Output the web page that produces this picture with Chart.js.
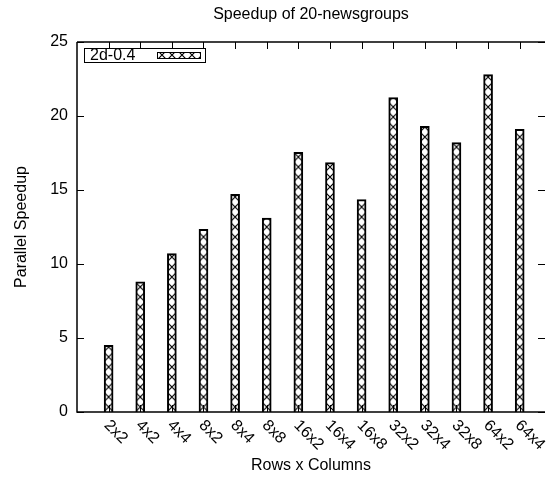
<!DOCTYPE html>
<html>
<head>
<meta charset="utf-8">
<script src="https://cdn.jsdelivr.net/npm/chart.js@4.4.0/dist/chart.umd.min.js"></script>
<style>
  html, body { margin: 0; padding: 0; background: #fff; }
  #wrap { width: 547px; height: 481px; }
</style>
</head>
<body>
<div id="wrap"><canvas id="speedup"></canvas></div>
<script>
// Speedup of 20-newsgroups - single hatched bar series

const configs = ['2x2', '4x2', '4x4', '8x2', '8x4', '8x8', '16x2', '16x4', '16x8', '32x2', '32x4', '32x8', '64x2', '64x4'];
const speedup = [4.5, 8.8, 10.7, 12.35, 14.7, 13.1, 17.55, 16.85, 14.35, 21.25, 19.3, 18.2, 22.8, 19.1];
const yTicks = [0, 5, 10, 15, 20, 25];
const seriesLabel = '2d-0.4';
const chartTitle = 'Speedup of 20-newsgroups';
const xTitle = 'Rows x Columns';
const yTitle = 'Parallel Speedup';

const FONT = "'Liberation Sans', Arial, sans-serif";

// crosshatch tile like gnuplot's pattern fill
function hatch(ctx, offsetX, offsetY) {
    const tile = document.createElement('canvas');
    tile.width = 10;
    tile.height = 10;
    const t = tile.getContext('2d');
    t.fillStyle = '#fff';
    t.fillRect(0, 0, 10, 10);
    t.strokeStyle = '#000';
    t.lineWidth = 1.2;
    t.beginPath();
    t.moveTo(-1, -1); t.lineTo(11, 11);
    t.moveTo(11, -1); t.lineTo(-1, 11);
    t.stroke();
    const p = ctx.createPattern(tile, 'repeat');
    p.setTransform(new DOMMatrix().translate(offsetX, offsetY || 0));
    return p;
}

// frame, ticks, titles, rotated labels and the key, gnuplot style
const gnuplotDecor = {
    id: 'gnuplotDecor',
    afterDraw(chart) {
        const ctx = chart.ctx;
        const area = chart.chartArea;
        const xs = chart.scales.x;
        const ys = chart.scales.y;
        ctx.save();
        ctx.strokeStyle = '#000';
        ctx.lineWidth = 1.5;

        // border: left, top, bottom
        ctx.beginPath();
        ctx.moveTo(area.left, area.top);
        ctx.lineTo(area.right, area.top);
        ctx.moveTo(area.left, area.top);
        ctx.lineTo(area.left, area.bottom);
        ctx.lineTo(area.right, area.bottom);
        ctx.stroke();

        // inward tick marks
        ctx.lineWidth = 1;
        ctx.beginPath();
        yTicks.forEach(v => {
            const y = Math.round(ys.getPixelForValue(v)) + 0.5;
            ctx.moveTo(area.left, y); ctx.lineTo(area.left + 7, y);
            ctx.moveTo(area.right, y); ctx.lineTo(area.right - 7, y);
        });
        configs.forEach((c, i) => {
            const x = Math.round(xs.getPixelForValue(i)) + 0.5;
            ctx.moveTo(x, area.top); ctx.lineTo(x, area.top + 7);
            ctx.moveTo(x, area.bottom); ctx.lineTo(x, area.bottom - 7);
        });
        ctx.stroke();

        ctx.fillStyle = '#000';
        ctx.font = '16px ' + FONT;

        // title and x axis title
        ctx.textAlign = 'center';
        ctx.textBaseline = 'middle';
        const mid = (area.left + area.right) / 2;
        ctx.fillText(chartTitle, mid, 15);
        ctx.fillText(xTitle, mid, 466);

        // rotated category labels
        ctx.textAlign = 'left';
        configs.forEach((c, i) => {
            const x = xs.getPixelForValue(i);
            ctx.save();
            ctx.translate(x - 2, 423);
            ctx.rotate(Math.PI / 4);
            ctx.fillText(c, 0, 0);
            ctx.restore();
        });

        // key box
        ctx.lineWidth = 1;
        ctx.strokeRect(84.5, 48.5, 121, 14);
        ctx.textAlign = 'left';
        ctx.fillText(seriesLabel, 90, 56);
        ctx.fillStyle = hatch(ctx, 157, 50);
        ctx.fillRect(157, 52, 44, 6);
        ctx.strokeRect(157.5, 52.5, 43, 6);
        ctx.restore();
    }
};

const ctx = document.getElementById('speedup').getContext('2d');

new Chart(ctx, {
    type: 'bar',
    data: {
        datasets: [{
            label: seriesLabel,
            data: speedup.map((v, i) => ({ x: i, y: v })),
            barThickness: 9,
            borderColor: '#000',
            borderWidth: 2,
            backgroundColor: (c) => {
                if (c.dataIndex === undefined || !c.chart.scales.x) return '#fff';
                const x = c.chart.scales.x.getPixelForValue(c.dataIndex);
                return hatch(c.chart.ctx, x - 5, 2);
            }
        }]
    },
    options: {
        responsive: true,
        maintainAspectRatio: false,
        animation: false,
        layout: {
            padding: { top: 42, right: 2, bottom: 69, left: 8 }
        },
        plugins: {
            legend: { display: false },
            tooltip: { enabled: false },
            title: { display: false }
        },
        scales: {
            x: {
                type: 'linear',
                display: false,
                offset: false,
                min: -1,
                max: 13.8
            },
            y: {
                min: 0,
                max: 25,
                grid: { display: false, drawTicks: false },
                border: { display: false },
                afterBuildTicks: (s) => { s.ticks = yTicks.map(v => ({ value: v })); },
                afterFit: (s) => { s.width = 69; },
                ticks: {
                    color: '#000',
                    padding: 9,
                    font: { family: FONT, size: 16 }
                },
                title: {
                    display: true,
                    text: yTitle,
                    color: '#000',
                    font: { family: FONT, size: 16 }
                }
            }
        }
    },
    plugins: [gnuplotDecor]
});
</script>
</body>
</html>
